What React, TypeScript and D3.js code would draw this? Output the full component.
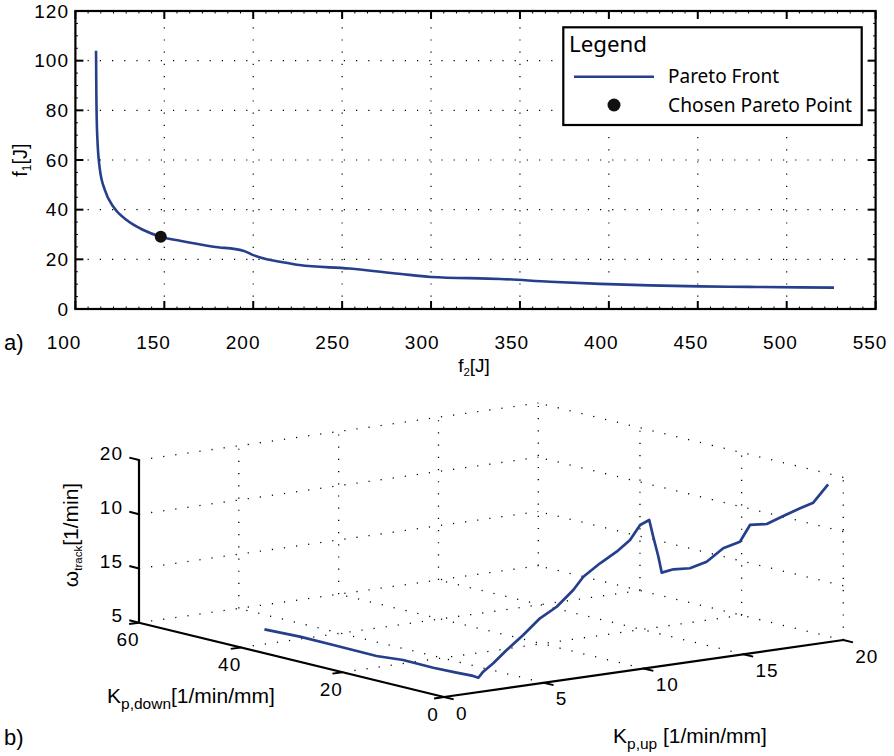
import React, { useEffect, useRef } from 'react'
import * as d3 from 'd3'

// a) Pareto front: f2 [J] (x) against f1 [J] (y)
const paretoF2 = [111.6, 111.7, 111.8, 112.3, 113.8, 116.6, 121.3, 128.8, 138.2, 148, 158.8, 177.6, 194.4, 200, 207.6, 215.1, 226, 254, 282, 300, 339, 367, 395, 423, 451, 479, 507, 526.6]
const paretoF1 = [104, 95, 85.5, 69.4, 56, 47.9, 41.2, 35.8, 31.8, 29.1, 27.5, 25.1, 23.5, 21.7, 20.0, 19.05, 17.7, 16.3, 14.2, 12.9, 12.1, 11.0, 10.1, 9.5, 9.1, 8.9, 8.7, 8.6]
const chosenF2 = 148
const chosenF1 = 29.1
const f2Ticks = [100, 150, 200, 250, 300, 350, 400, 450, 500, 550]
const f1Ticks = [0, 20, 40, 60, 80, 100, 120]
const legendItems = ['Pareto Front', 'Chosen Pareto Point']

// b) controller parameters along the front
const kpUp = [3.1, 3.27, 3.24, 3.19, 3.5, 3.46, 3.55, 3.65, 3.58, 3.8, 4.25, 4.85, 5.59, 6.34, 7.09, 7.83, 8.28, 9.03, 9.77, 10.37, 10.82, 11.23, 11.41, 11.64, 11.79, 12.31, 13.05, 13.8, 14.54, 15.29, 15.74, 16.49, 17.23, 17.98, 18.57, 19.24]
const kpDown = [47.5, 41.2, 34.5, 25.8, 21.8, 15.7, 11.5, 8.6, 7.3, 7.21, 7.0, 6.72, 6.37, 6.02, 5.67, 5.32, 5.11, 4.76, 4.41, 4.13, 3.92, 3.73, 3.65, 3.54, 3.47, 3.22, 2.88, 2.53, 2.18, 1.83, 1.62, 1.27, 0.92, 0.57, 0.29, 0]
const omegaTrack = [5, 5, 5, 5, 5, 5, 5, 5, 5, 5.51, 6.19, 7.29, 8.52, 9.9, 10.81, 12.2, 13.33, 14.41, 15.33, 16.28, 17.57, 17.94, 16.36, 14.47, 12.97, 13.17, 13.11, 13.56, 14.64, 15.09, 16.54, 16.47, 17.05, 17.61, 18.0, 19.55]
const kpUpTicks = [0, 5, 10, 15, 20]
const kpDownTicks = [0, 20, 40, 60]
const omegaTicks = [5, 10, 15, 20]
const omegaTickLabels = ['5', '15', '10', '20']

const blue = '#263f8c'
const tickFont = 'Liberation Sans, Arial, sans-serif'
const legendFont = 'Noto Sans, Open Sans, sans-serif'
const dotted = '1.2 11'

const drawPareto = (svg) => {
  const g = svg.append('g').attr('class', 'pareto')
  const x = d3.scaleLinear().domain([100, 550]).range([75.4, 875.6])
  const xLabel = d3.scaleLinear().domain([100, 550]).range([64, 870])
  const y = d3.scaleLinear().domain([0, 120]).range([309, 11])
  const [xl, xr] = x.range()
  const [yb, yt] = y.range()

  // dotted grid
  g.selectAll('.gridx')
    .data(f2Ticks.slice(1, -1))
    .enter()
    .append('line')
    .attr('x1', (d) => x(d))
    .attr('x2', (d) => x(d))
    .attr('y1', yb)
    .attr('y2', yt)
    .attr('stroke', '#000')
    .attr('stroke-width', 1.2)
    .attr('stroke-dasharray', dotted)
  g.selectAll('.gridy')
    .data(f1Ticks.slice(1, -1))
    .enter()
    .append('line')
    .attr('x1', xl)
    .attr('x2', xr)
    .attr('y1', (d) => y(d))
    .attr('y2', (d) => y(d))
    .attr('stroke', '#000')
    .attr('stroke-width', 1.2)
    .attr('stroke-dasharray', dotted)

  // minor ticks (little dots along the box)
  const xMinor = d3.range(100, 550, 50 / 7).filter((v) => Math.abs((v - 100) % 50) > 1 && Math.abs((v - 100) % 50) < 49)
  const yMinor = d3.range(0, 120, 5).filter((v) => v % 20 !== 0)
  xMinor.forEach((v) => {
    g.append('line').attr('x1', x(v)).attr('x2', x(v)).attr('y1', yb).attr('y2', yb - 2.5).attr('stroke', '#000').attr('stroke-width', 1)
    g.append('line').attr('x1', x(v)).attr('x2', x(v)).attr('y1', yt).attr('y2', yt + 2.5).attr('stroke', '#000').attr('stroke-width', 1)
  })
  yMinor.forEach((v) => {
    g.append('line').attr('x1', xl).attr('x2', xl + 2.5).attr('y1', y(v)).attr('y2', y(v)).attr('stroke', '#000').attr('stroke-width', 1)
    g.append('line').attr('x1', xr).attr('x2', xr - 2.5).attr('y1', y(v)).attr('y2', y(v)).attr('stroke', '#000').attr('stroke-width', 1)
  })

  // major ticks, inward on all four sides
  f2Ticks.forEach((v) => {
    g.append('line').attr('x1', x(v)).attr('x2', x(v)).attr('y1', yb).attr('y2', yb - 8).attr('stroke', '#000').attr('stroke-width', 2)
    g.append('line').attr('x1', x(v)).attr('x2', x(v)).attr('y1', yt).attr('y2', yt + 8).attr('stroke', '#000').attr('stroke-width', 2)
  })
  f1Ticks.forEach((v) => {
    g.append('line').attr('x1', xl).attr('x2', xl + 8).attr('y1', y(v)).attr('y2', y(v)).attr('stroke', '#000').attr('stroke-width', 2)
    g.append('line').attr('x1', xr).attr('x2', xr - 8).attr('y1', y(v)).attr('y2', y(v)).attr('stroke', '#000').attr('stroke-width', 2)
  })

  // Pareto front line
  const line = d3
    .line()
    .x((d) => x(d[0]))
    .y((d) => y(d[1]))
    .curve(d3.curveMonotoneX)
  g.append('path')
    .datum(paretoF2.map((v, i) => [v, paretoF1[i]]))
    .attr('d', line)
    .attr('fill', 'none')
    .attr('stroke', blue)
    .attr('stroke-width', 2.6)
    .attr('stroke-linejoin', 'round')

  g.append('circle').attr('cx', x(chosenF2)).attr('cy', y(chosenF1)).attr('r', 6).attr('fill', '#111')

  // box
  g.append('rect')
    .attr('x', xl)
    .attr('y', yt)
    .attr('width', xr - xl)
    .attr('height', yb - yt)
    .attr('fill', 'none')
    .attr('stroke', '#000')
    .attr('stroke-width', 2.2)

  // tick labels
  g.selectAll('.xlab')
    .data(f2Ticks)
    .enter()
    .append('text')
    .attr('x', (d) => xLabel(d))
    .attr('y', 349)
    .attr('text-anchor', 'middle')
    .attr('font-family', tickFont)
    .attr('font-size', 19)
    .attr('letter-spacing', 1)
    .text((d) => d)
  g.selectAll('.ylab')
    .data(f1Ticks)
    .enter()
    .append('text')
    .attr('x', 69)
    .attr('y', (d) => y(d) + 6.8)
    .attr('text-anchor', 'end')
    .attr('font-family', tickFont)
    .attr('font-size', 19)
    .attr('letter-spacing', 1)
    .text((d) => d)

  // axis titles
  const xt = g.append('text').attr('x', 474).attr('y', 372).attr('text-anchor', 'middle').attr('font-family', tickFont).attr('font-size', 19)
  xt.append('tspan').text('f')
  xt.append('tspan').attr('font-size', 11.5).attr('dy', 4).text('2')
  xt.append('tspan').attr('dy', -4).text('[J]')
  const yt2 = g
    .append('text')
    .attr('transform', 'translate(27,160) rotate(-90)')
    .attr('text-anchor', 'middle')
    .attr('font-family', tickFont)
    .attr('font-size', 20)
  yt2.append('tspan').text('f')
  yt2.append('tspan').attr('font-size', 12).attr('dy', 4).text('1')
  yt2.append('tspan').attr('dy', -4).text('[J]')

  g.append('text').attr('x', 4).attr('y', 350).attr('font-family', tickFont).attr('font-size', 22).text('a)')

  // legend
  const lg = g.append('g').attr('class', 'legend')
  lg.append('rect').attr('x', 563.3).attr('y', 27.3).attr('width', 298.4).attr('height', 97.7).attr('fill', '#fff').attr('stroke', '#000').attr('stroke-width', 2.2)
  lg.append('text').attr('x', 569).attr('y', 51.7).attr('font-family', legendFont).attr('font-size', 21).attr('textLength', 78).attr('lengthAdjust', 'spacingAndGlyphs').text('Legend')
  lg.append('line').attr('x1', 574).attr('x2', 654).attr('y1', 76.7).attr('y2', 76.7).attr('stroke', blue).attr('stroke-width', 2.6)
  lg.append('circle').attr('cx', 614).attr('cy', 105).attr('r', 6.5).attr('fill', '#111')
  const lens = [111, 184]
  legendItems.forEach((t, i) => {
    lg.append('text')
      .attr('x', 668)
      .attr('y', i === 0 ? 83.3 : 111.7)
      .attr('font-family', legendFont)
      .attr('font-size', 20)
      .attr('textLength', lens[i])
      .attr('lengthAdjust', 'spacingAndGlyphs')
      .text(t)
  })
}

const drawParams = (svg) => {
  const g = svg.append('g').attr('class', 'params')
  // orthographic view of the box: screen vectors of each full axis range
  const origin = [444, 697]
  const uVec = [399.3, -57]
  const dVec = [-305, -74.3]
  const zVec = [0, -162.7]
  const su = d3.scaleLinear().domain([0, 20]).range([0, 1])
  const sd = d3.scaleLinear().domain([0, 60]).range([0, 1])
  const sz = d3.scaleLinear().domain([5, 20]).range([0, 1])
  const project = (u, d, z) => [
    origin[0] + su(u) * uVec[0] + sd(d) * dVec[0] + sz(z) * zVec[0],
    origin[1] + su(u) * uVec[1] + sd(d) * dVec[1] + sz(z) * zVec[1],
  ]
  const seg = (a, b, stroke, width, dash) => {
    const p = project(a[0], a[1], a[2])
    const q = project(b[0], b[1], b[2])
    const l = g.append('line').attr('x1', p[0]).attr('y1', p[1]).attr('x2', q[0]).attr('y2', q[1]).attr('stroke', stroke).attr('stroke-width', width)
    if (dash) l.attr('stroke-dasharray', dash)
  }

  // grid on back wall, right wall and floor
  omegaTicks.forEach((z) => {
    seg([0, 60, z], [20, 60, z], '#000', 1.3, dotted)
    seg([20, 0, z], [20, 60, z], '#000', 1.3, dotted)
  })
  kpUpTicks.slice(1).forEach((u) => seg([u, 60, 5], [u, 60, 20], '#000', 1.3, dotted))
  kpDownTicks.slice(0, -1).forEach((d) => seg([20, d, 5], [20, d, 20], '#000', 1.3, dotted))
  kpUpTicks.slice(1, -1).forEach((u) => seg([u, 0, 5], [u, 60, 5], '#000', 1.3, dotted))
  kpDownTicks.slice(1, -1).forEach((d) => seg([0, d, 5], [20, d, 5], '#000', 1.3, dotted))

  // curve
  const pts = kpUp.map((u, i) => project(u, kpDown[i], omegaTrack[i]))
  g.append('path')
    .datum(pts)
    .attr('d', d3.line())
    .attr('fill', 'none')
    .attr('stroke', blue)
    .attr('stroke-width', 2.7)
    .attr('stroke-linejoin', 'round')

  // axes
  seg([0, 60, 5], [0, 60, 20], '#000', 2.2)
  seg([0, 0, 5], [0, 60, 5], '#000', 2.2)
  seg([0, 0, 5], [20, 0, 5], '#000', 2.2)

  const tick = (p, dx, dy) =>
    g.append('line').attr('x1', p[0]).attr('y1', p[1]).attr('x2', p[0] + dx).attr('y2', p[1] + dy).attr('stroke', '#000').attr('stroke-width', 2)

  omegaTicks.forEach((z, i) => {
    const p = project(0, 60, z)
    tick(p, -9.7, -2.4)
    g.append('text').attr('x', 123).attr('y', p[1] - 7).attr('dy', '0.35em').attr('text-anchor', 'end').attr('font-family', tickFont).attr('font-size', 19).attr('letter-spacing', 1).text(omegaTickLabels[i])
  })
  kpDownTicks.forEach((d) => {
    const p = project(0, d, 5)
    tick(p, -9.9, 1.4)
    g.append('text').attr('x', p[0] - 11).attr('y', p[1] + 17).attr('dy', '0.35em').attr('text-anchor', 'middle').attr('font-family', tickFont).attr('font-size', 19).attr('letter-spacing', 1).text(d)
  })
  kpUpTicks.forEach((u) => {
    const p = project(u, 0, 5)
    tick(p, 9.7, 2.4)
    g.append('text').attr('x', p[0] + 12).attr('y', p[1] + 16).attr('dy', '0.35em').attr('text-anchor', 'start').attr('font-family', tickFont).attr('font-size', 19).attr('letter-spacing', 1).text(u)
  })

  // axis titles
  const dt = g.append('text').attr('x', 107).attr('y', 703).attr('font-family', tickFont).attr('font-size', 21)
  dt.append('tspan').text('K')
  dt.append('tspan').attr('font-size', 15.5).attr('dy', 6).text('p,down')
  dt.append('tspan').attr('dy', -6).text('[1/min/mm]')

  const ut = g.append('text').attr('x', 613).attr('y', 743).attr('font-family', tickFont).attr('font-size', 21)
  ut.append('tspan').text('K')
  ut.append('tspan').attr('font-size', 15.5).attr('dy', 6).text('p,up')
  ut.append('tspan').attr('dy', -6).text(' [1/min/mm]')

  const zt = g
    .append('text')
    .attr('transform', 'translate(78,535) rotate(-90)')
    .attr('text-anchor', 'middle')
    .attr('font-family', tickFont)
    .attr('font-size', 21)
  zt.append('tspan').text('ω')
  zt.append('tspan').attr('font-size', 11.5).attr('dy', 4).text('track')
  zt.append('tspan').attr('dy', -4).text('[1/min]')

  g.append('text').attr('x', 4).attr('y', 745).attr('font-family', tickFont).attr('font-size', 22).text('b)')
}

const App = () => {
  const svgRef = useRef(null)

  useEffect(() => {
    const svg = d3.select(svgRef.current)
    svg.selectAll('*').remove()
    drawPareto(svg)
    drawParams(svg)
  }, [])

  return (
    <svg
      ref={svgRef}
      width={894}
      height={756}
      style={{ position: 'absolute', left: 0, top: 0, background: '#fff' }}
    ></svg>
  )
}

export default App
